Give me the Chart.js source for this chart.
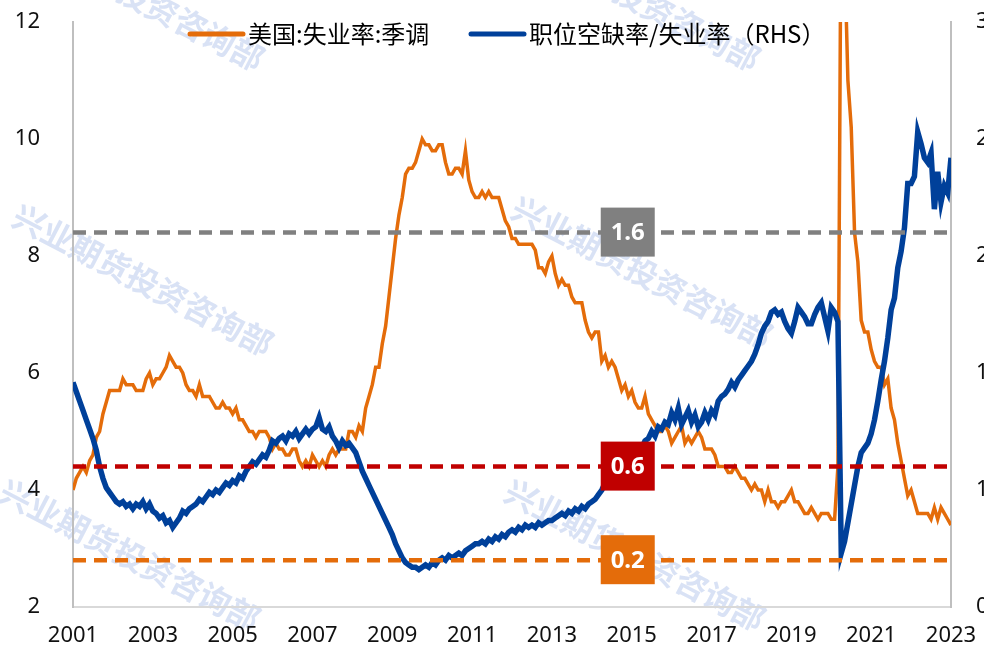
<!DOCTYPE html>
<html>
<head>
<meta charset="utf-8">
<script src="https://cdn.jsdelivr.net/npm/chart.js@4/dist/chart.umd.min.js"></script>
<style>
  html, body { margin: 0; padding: 0; background: #fff; overflow: hidden; }
  .canvas-container { position: relative; width: 1000px; height: 655px; }
</style>
</head>
<body>
<div class="canvas-container"><canvas id="chart"></canvas></div>
<script>
// monthly, Jan 2001 .. Jan 2023
const yearLabels = ["2001", "2003", "2005", "2007", "2009", "2011", "2013", "2015", "2017", "2019", "2021", "2023"];
const seriesNames = ["美国:失业率:季调", "职位空缺率/失业率（RHS）"];

const unemployment = [
  4.0, 4.2, 4.3, 4.4, 4.3, 4.5, 4.6, 4.9, 5.0, 5.3, 5.5, 5.7,
  5.7, 5.7, 5.7, 5.9, 5.8, 5.8, 5.8, 5.7, 5.7, 5.7, 5.9, 6.0,
  5.8, 5.9, 5.9, 6.0, 6.1, 6.3, 6.2, 6.1, 6.1, 6.0, 5.8, 5.7,
  5.7, 5.6, 5.8, 5.6, 5.6, 5.6, 5.5, 5.4, 5.4, 5.5, 5.4, 5.4,
  5.3, 5.4, 5.2, 5.2, 5.1, 5.0, 5.0, 4.9, 5.0, 5.0, 5.0, 4.9,
  4.7, 4.8, 4.7, 4.7, 4.6, 4.6, 4.7, 4.7, 4.5, 4.4, 4.5, 4.4,
  4.6, 4.5, 4.4, 4.5, 4.4, 4.6, 4.7, 4.6, 4.7, 4.7, 4.7, 5.0,
  5.0, 4.9, 5.1, 5.0, 5.4, 5.6, 5.8, 6.1, 6.1, 6.5, 6.8, 7.3,
  7.8, 8.3, 8.7, 9.0, 9.4, 9.5, 9.5, 9.6, 9.8, 10.0, 9.9, 9.9,
  9.8, 9.8, 9.9, 9.9, 9.6, 9.4, 9.4, 9.5, 9.5, 9.4, 9.8, 9.3,
  9.1, 9.0, 9.0, 9.1, 9.0, 9.1, 9.0, 9.0, 9.0, 8.8, 8.6, 8.5,
  8.3, 8.3, 8.2, 8.2, 8.2, 8.2, 8.2, 8.1, 7.8, 7.8, 7.7, 7.9,
  8.0, 7.7, 7.5, 7.6, 7.5, 7.5, 7.3, 7.2, 7.2, 7.2, 6.9, 6.7,
  6.6, 6.7, 6.7, 6.2, 6.3, 6.1, 6.2, 6.1, 5.9, 5.7, 5.8, 5.6,
  5.7, 5.5, 5.4, 5.4, 5.6, 5.3, 5.2, 5.1, 5.0, 5.0, 5.1, 5.0,
  4.8, 4.9, 5.0, 5.1, 4.8, 4.9, 4.8, 4.9, 5.0, 4.9, 4.7, 4.7,
  4.7, 4.6, 4.4, 4.4, 4.4, 4.3, 4.3, 4.4, 4.3, 4.2, 4.2, 4.1,
  4.0, 4.1, 4.0, 4.0, 3.8, 4.0, 3.8, 3.8, 3.7, 3.8, 3.8, 3.9,
  4.0, 3.8, 3.8, 3.7, 3.6, 3.6, 3.7, 3.6, 3.5, 3.6, 3.6, 3.6,
  3.5, 3.5, 4.4, 14.7, 13.2, 11.0, 10.2, 8.4, 7.9, 6.9, 6.7, 6.7,
  6.4, 6.2, 6.1, 6.1, 5.8, 5.9, 5.4, 5.2, 4.8, 4.5, 4.2, 3.9,
  4.0, 3.8, 3.6, 3.6, 3.6, 3.6, 3.5, 3.7, 3.5, 3.7, 3.6, 3.5,
  3.4
];

const vacancyRatio = [
  0.96, 0.92, 0.88, 0.84, 0.80, 0.76, 0.72, 0.67, 0.60, 0.55, 0.51, 0.49,
  0.47, 0.45, 0.44, 0.45, 0.43, 0.44, 0.42, 0.44, 0.43, 0.45, 0.42, 0.44,
  0.41, 0.40, 0.38, 0.39, 0.36, 0.37, 0.34, 0.36, 0.38, 0.41, 0.40, 0.42,
  0.43, 0.44, 0.46, 0.45, 0.47, 0.49, 0.48, 0.50, 0.49, 0.51, 0.53, 0.52,
  0.54, 0.53, 0.56, 0.55, 0.58, 0.60, 0.62, 0.61, 0.63, 0.65, 0.64, 0.67,
  0.71, 0.70, 0.72, 0.73, 0.71, 0.74, 0.73, 0.75, 0.72, 0.74, 0.76, 0.74,
  0.76, 0.77, 0.81, 0.76, 0.75, 0.77, 0.73, 0.71, 0.68, 0.71, 0.69, 0.70,
  0.68, 0.66, 0.62, 0.58, 0.55, 0.52, 0.49, 0.46, 0.43, 0.40, 0.37, 0.34,
  0.31, 0.27, 0.24, 0.21, 0.19, 0.18, 0.17, 0.17, 0.16, 0.17, 0.18, 0.17,
  0.19, 0.18, 0.20, 0.21, 0.20, 0.22, 0.21, 0.22, 0.23, 0.22, 0.24, 0.25,
  0.26, 0.27, 0.27, 0.28, 0.27, 0.29, 0.28, 0.30, 0.29, 0.31, 0.30, 0.32,
  0.33, 0.32, 0.34, 0.33, 0.35, 0.34, 0.35, 0.34, 0.36, 0.35, 0.36, 0.37,
  0.37, 0.38, 0.39, 0.40, 0.39, 0.41, 0.40, 0.42, 0.41, 0.43, 0.42, 0.44,
  0.45, 0.46, 0.48, 0.50, 0.53, 0.56, 0.55, 0.57, 0.60, 0.59, 0.62, 0.64,
  0.64, 0.66, 0.67, 0.68, 0.71, 0.72, 0.75, 0.73, 0.77, 0.76, 0.79, 0.78,
  0.83, 0.80, 0.85, 0.78, 0.81, 0.84, 0.79, 0.82, 0.77, 0.79, 0.83, 0.80,
  0.84, 0.82, 0.88, 0.90, 0.91, 0.93, 0.96, 0.94, 0.97, 0.99, 1.01, 1.03,
  1.05, 1.08, 1.12, 1.17, 1.20, 1.22, 1.26, 1.27, 1.25, 1.26, 1.22, 1.19,
  1.17, 1.22, 1.28, 1.26, 1.24, 1.21, 1.21, 1.25, 1.28, 1.30, 1.24, 1.18,
  1.28, 1.26, 1.22, 0.23, 0.28, 0.36, 0.44, 0.52, 0.60, 0.66, 0.68, 0.70,
  0.74, 0.80, 0.88, 0.97, 1.05, 1.15, 1.27, 1.32, 1.45, 1.52, 1.62, 1.81,
  1.81, 1.84, 2.03, 1.98, 1.92, 1.90, 1.94, 1.70, 1.86, 1.73, 1.80, 1.77,
  1.92
];

// reference levels on the right axis
const refLevels = [1.6, 0.6, 0.2];
const refLabels = ["1.6", "0.6", "0.2"];
const refColors = ["#808080", "#C00000", "#E46C0A"];
const refLabelAt = 13.9; // years after 2001, where the value boxes sit

const toPoints = (arr) => arr.map((v, i) => ({ x: i / 12, y: v }));
const lastX = (unemployment.length - 1) / 12;

const watermarkPlugin = {
  id: "watermark",
  beforeDraw(chart) {
    const ctx = chart.ctx;
    const spots = [[134, -5], [630, -5], [143, 280], [642, 272], [130, 555], [635, 555]];
    ctx.save();
    ctx.font = "bold 32px 'Noto Sans CJK SC'";
    ctx.fillStyle = "rgba(185, 203, 236, 0.55)";
    ctx.textAlign = "center";
    ctx.textBaseline = "middle";
    spots.forEach(([x, y]) => {
      ctx.save();
      ctx.translate(x, y);
      ctx.rotate(0.48);
      ctx.fillText("兴业期货投资咨询部", 0, 0);
      ctx.restore();
    });
    ctx.restore();
  },
};

const refBoxPlugin = {
  id: "refBoxes",
  afterDatasetsDraw(chart) {
    const ctx = chart.ctx;
    const xs = chart.scales.x;
    const ys = chart.scales.y1;
    ctx.save();
    ctx.font = "bold 24px 'Noto Sans'";
    ctx.textAlign = "center";
    ctx.textBaseline = "middle";
    for (let i = 0; i < refLevels.length; i++) {
      const cx = xs.getPixelForValue(refLabelAt);
      const cy = ys.getPixelForValue(refLevels[i]);
      ctx.fillStyle = refColors[i];
      ctx.fillRect(cx - 27, cy - 25, 54, 49);
      ctx.fillStyle = "#fff";
      ctx.fillText(refLabels[i], cx, cy + 1);
    }
    ctx.restore();
  },
};

const legendPlugin = {
  id: "topLegend",
  afterDraw(chart) {
    const ctx = chart.ctx;
    const starts = [190, 471];
    const y = 34;
    ctx.save();
    ctx.font = "24px 'Noto Sans CJK SC'";
    ctx.textBaseline = "middle";
    ctx.fillStyle = "#000";
    for (let i = 0; i < 2; i++) {
      const ds = chart.data.datasets[i];
      ctx.strokeStyle = ds.borderColor;
      ctx.lineWidth = 5;
      ctx.lineCap = "round";
      ctx.beginPath();
      ctx.moveTo(starts[i], y);
      ctx.lineTo(starts[i] + 53, y);
      ctx.stroke();
      ctx.fillText(ds.label, starts[i] + 58, y);
    }
    ctx.restore();
  },
};

const refDatasets = refLevels.map((lvl, i) => ({
  label: "ref " + refLabels[i],
  data: [{ x: 0, y: lvl }, { x: lastX, y: lvl }],
  yAxisID: "y1",
  borderColor: refColors[i],
  borderWidth: 4.5,
  borderDash: [13, 8],
  pointRadius: 0,
  order: -1,
}));

const tickFont = { family: "'Noto Sans', 'Open Sans', sans-serif", size: 22 };

// fixed axis box: the big tick padding should not push the plot down
function fitYAxis(width) {
  return (s) => {
    s.width = width;
    s.paddingTop = 22;
    s.paddingBottom = 0;
  };
}

new Chart(document.getElementById("chart"), {
  type: "line",
  data: {
    datasets: [
      {
        label: seriesNames[0],
        data: toPoints(unemployment),
        yAxisID: "y",
        borderColor: "#E46C0A",
        borderWidth: 3.5,
        pointRadius: 0,
        order: 1,
      },
      {
        label: seriesNames[1],
        data: toPoints(vacancyRatio),
        yAxisID: "y1",
        borderColor: "#00409A",
        borderWidth: 5.5,
        pointRadius: 0,
        order: 0,
      },
      ...refDatasets,
    ],
  },
  options: {
    responsive: true,
    maintainAspectRatio: false,
    animation: false,
    layout: { padding: 0 },
    plugins: {
      legend: { display: false },
      tooltip: { enabled: false },
    },
    scales: {
      x: {
        type: "linear",
        min: 0,
        max: 22,
        grid: { drawOnChartArea: false, drawTicks: false },
        border: { color: "#D9D9D9", width: 2 },
        ticks: {
          stepSize: 2,
          padding: 16,
          maxRotation: 0,
          color: "#111",
          font: tickFont,
          callback: (v) => yearLabels[v / 2],
        },
        afterFit: (s) => { s.height = 48; },
      },
      y: {
        position: "left",
        min: 2,
        max: 12,
        grid: { drawOnChartArea: false, drawTicks: false },
        border: { color: "#BFBFBF", width: 2 },
        ticks: { stepSize: 2, padding: 33, color: "#111", font: tickFont },
        afterFit: fitYAxis(73),
      },
      y1: {
        position: "right",
        min: 0,
        max: 2.5,
        grid: { drawOnChartArea: false, drawTicks: false },
        border: { color: "#BFBFBF", width: 2 },
        ticks: {
          stepSize: 0.5,
          padding: 25,
          color: "#111",
          font: tickFont,
          callback: (v) => String(Math.round(v)),
        },
        afterFit: fitYAxis(49),
      },
    },
  },
  plugins: [watermarkPlugin, refBoxPlugin, legendPlugin],
});
</script>
</body>
</html>
